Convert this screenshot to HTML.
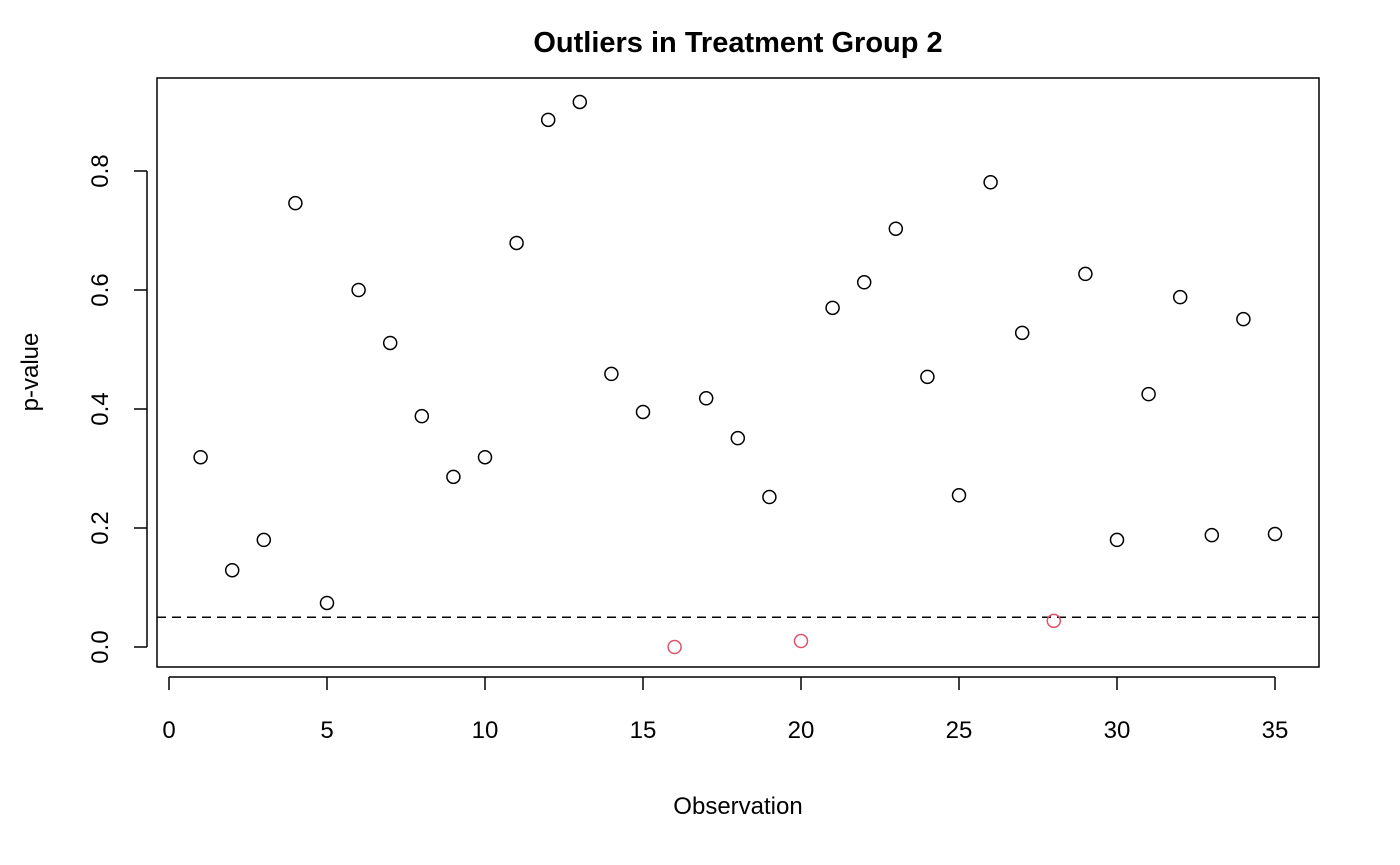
<!DOCTYPE html>
<html><head><meta charset="utf-8"><style>
html,body{margin:0;padding:0;background:#fff;}
svg{display:block;font-family:"Liberation Sans",Arial,sans-serif;}
</style></head><body>
<svg id="chart" width="1400" height="865" viewBox="0 0 1400 865">
<text x="738" y="52" text-anchor="middle" font-size="29" font-weight="bold">Outliers in Treatment Group 2</text>
<rect x="157" y="78" width="1162" height="589" fill="none" stroke="#000" stroke-width="1.5"/>
<text x="738" y="814" text-anchor="middle" font-size="24">Observation</text>
<text transform="translate(38,372) rotate(-90)" text-anchor="middle" font-size="24">p-value</text>
<g id="xaxis"></g>
<g id="yaxis"></g>
<g id="refline"></g>
<g id="points"></g>
</svg>
<script>
const observations=[1,2,3,4,5,6,7,8,9,10,11,12,13,14,15,16,17,18,19,20,21,22,23,24,25,26,27,28,29,30,31,32,33,34,35];
const pvalues=[0.319,0.129,0.180,0.746,0.074,0.600,0.511,0.388,0.286,0.319,0.679,0.886,0.916,0.459,0.395,0.0,0.418,0.351,0.252,0.010,0.570,0.613,0.703,0.454,0.255,0.781,0.528,0.044,0.627,0.180,0.425,0.588,0.188,0.551,0.190];
const xTicks=[0,5,10,15,20,25,30,35];
const yTicks=[0.0,0.2,0.4,0.6,0.8];
const threshold=0.05;
const NS="http://www.w3.org/2000/svg";
function xs(v){return 169+v*(1275-169)/35;}
function ys(v){return 647-v*595;}
function mk(tag,attrs,parent){const e=document.createElementNS(NS,tag);for(const k in attrs)e.setAttribute(k,attrs[k]);parent.appendChild(e);return e;}
const xa=document.getElementById('xaxis'),ya=document.getElementById('yaxis');
let l=mk('line',{x1:xs(xTicks[0]),x2:xs(xTicks[xTicks.length-1]),y1:677,y2:677,stroke:'#000','stroke-width':1.5},xa);


xTicks.forEach(t=>{
 const tk=mk('line',{x1:xs(t),x2:xs(t),y1:677,y2:690,stroke:'#000','stroke-width':1.5},xa);
 
 
 const tx=mk('text',{x:xs(t),y:738,'text-anchor':'middle','font-size':24},xa);
 tx.textContent=t;
 
 
});
l=mk('line',{x1:147,x2:147,y1:ys(yTicks[0]),y2:ys(yTicks[yTicks.length-1]),stroke:'#000','stroke-width':1.5},ya);


yTicks.forEach(t=>{
 const tk=mk('line',{x1:134,x2:147,y1:ys(t),y2:ys(t),stroke:'#000','stroke-width':1.5},ya);
 
 
 const tx=mk('text',{transform:`translate(108,${ys(t)}) rotate(-90)`,'text-anchor':'middle','font-size':24},ya);
 tx.textContent=t.toFixed(1);
 
 
});
const rl=mk('line',{x1:157,x2:1319,y1:ys(threshold),y2:ys(threshold),stroke:'#000','stroke-width':1.5,'stroke-dasharray':'9,6'},document.getElementById('refline'));


const pg=document.getElementById('points');
observations.forEach((o,i)=>{
 const v=pvalues[i];
 const c=mk('circle',{cx:xs(o),cy:ys(v),r:6.5,fill:'none',stroke:v<threshold?'#DF536B':'#000','stroke-width':1.5},pg);
 
 
});
</script>
</body></html>
